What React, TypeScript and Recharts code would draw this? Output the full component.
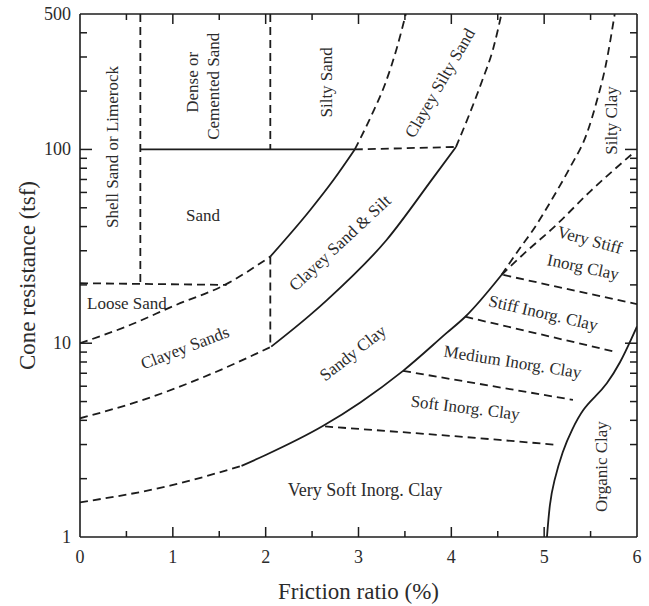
import React from 'react';
import { ComposedChart, Line, XAxis, YAxis, ReferenceDot } from 'recharts';

type Pt = { x: number; y: number };

// axis ticks
const xTicks = [0, 0.5, 1, 1.5, 2, 2.5, 3, 3.5, 4, 4.5, 5, 5.5, 6];
const xLabels = [0, 1, 2, 3, 4, 5, 6];
const yTicks = [1, 2, 3, 4, 5, 6, 7, 8, 9, 10, 20, 30, 40, 50, 60, 70, 80, 90, 100, 200, 300, 400, 500];
const yLabels = [1, 10, 100, 500];

// zone boundaries (friction ratio %, cone resistance tsf)
const shellSandEdge: Pt[] = [{ x: 0.65, y: 500 }, { x: 0.65, y: 20.5 }];
const denseSandEdge: Pt[] = [{ x: 2.05, y: 500 }, { x: 2.05, y: 100 }];
const sandTop: Pt[] = [{ x: 0.65, y: 100 }, { x: 2.96, y: 100 }];
const clayeySiltyBase: Pt[] = [{ x: 2.96, y: 100 }, { x: 4.05, y: 103 }];
const sandBase: Pt[] = [{ x: 0, y: 20.4 }, { x: 1.58, y: 20 }];
const siltySandEdge: Pt[] = [
  { x: 2.96, y: 100 }, { x: 3.14, y: 150 }, { x: 3.29, y: 220 }, { x: 3.41, y: 330 }, { x: 3.51, y: 500 },
];
const clayeySiltyEdge: Pt[] = [
  { x: 4.05, y: 103 }, { x: 4.19, y: 150 }, { x: 4.33, y: 225 }, { x: 4.45, y: 330 }, { x: 4.54, y: 500 },
];
const looseSandBase: Pt[] = [
  { x: 0, y: 10 }, { x: 0.5, y: 12.2 }, { x: 1.04, y: 15.8 }, { x: 1.56, y: 20 }, { x: 2.05, y: 28 },
];
const siltUpper: Pt[] = [
  { x: 2.05, y: 28 }, { x: 2.48, y: 48.7 }, { x: 2.73, y: 69.5 }, { x: 2.96, y: 100 },
];
const clayeySandsEdge: Pt[] = [{ x: 2.05, y: 28 }, { x: 2.05, y: 9.6 }];
const clayeySandsBase: Pt[] = [
  { x: 0, y: 4.1 }, { x: 0.68, y: 5.1 }, { x: 1.4, y: 6.9 }, { x: 2.06, y: 9.6 },
];
const siltLower: Pt[] = [
  { x: 2.06, y: 9.6 }, { x: 2.48, y: 14 }, { x: 2.66, y: 16.7 }, { x: 3.3, y: 34 }, { x: 3.81, y: 72 }, { x: 4.05, y: 103 },
];
const sandyClayDashed: Pt[] = [
  { x: 0, y: 1.51 }, { x: 0.97, y: 1.84 }, { x: 1.74, y: 2.33 },
];
const sandyClaySolid: Pt[] = [
  { x: 1.74, y: 2.33 }, { x: 2.0, y: 2.65 }, { x: 2.62, y: 3.75 }, { x: 3.02, y: 4.95 },
  { x: 3.48, y: 7.2 }, { x: 3.95, y: 11.3 }, { x: 4.15, y: 13.7 }, { x: 4.54, y: 22.5 },
];
const siltyClayEdge: Pt[] = [
  { x: 4.54, y: 22.5 }, { x: 4.74, y: 31 }, { x: 4.88, y: 38.4 }, { x: 5.1, y: 57 }, { x: 5.28, y: 81 },
  { x: 5.46, y: 121 }, { x: 5.57, y: 180 }, { x: 5.66, y: 267 }, { x: 5.76, y: 500 },
];
const veryStiffTop: Pt[] = [
  { x: 4.54, y: 22.5 }, { x: 4.8, y: 29.5 }, { x: 5.1, y: 39.5 }, { x: 5.5, y: 61 }, { x: 5.95, y: 95 },
];
const stiffTop: Pt[] = [{ x: 4.56, y: 22.5 }, { x: 6, y: 15.9 }];
const mediumTop: Pt[] = [{ x: 4.15, y: 13.7 }, { x: 5.78, y: 9.0 }];
const softTop: Pt[] = [{ x: 3.48, y: 7.2 }, { x: 5.31, y: 5.1 }];
const veryCoftTop: Pt[] = [{ x: 2.64, y: 3.72 }, { x: 4.52, y: 3.17 }, { x: 5.13, y: 2.99 }];
const organicEdge: Pt[] = [
  { x: 5.03, y: 1 }, { x: 5.06, y: 1.5 }, { x: 5.1, y: 1.9 }, { x: 5.2, y: 2.8 }, { x: 5.3, y: 3.6 }, { x: 5.42, y: 4.6 },
  { x: 5.55, y: 5.3 }, { x: 5.67, y: 6.1 }, { x: 5.82, y: 7.9 }, { x: 5.95, y: 10.8 }, { x: 6, y: 12.2 },
];

const zoneNames = [
  'Shell Sand or Limerock', 'Dense or', 'Cemented Sand', 'Silty Sand', 'Clayey Silty Sand', 'Silty Clay',
  'Sand', 'Loose Sand', 'Clayey Sands', 'Clayey Sand & Silt', 'Sandy Clay', 'Very Stiff', 'Inorg Clay',
  'Stiff Inorg. Clay', 'Medium Inorg. Clay', 'Soft Inorg. Clay', 'Very Soft Inorg. Clay', 'Organic Clay',
];
const zoneX = [0.345, 1.217, 1.434, 2.65, 3.878, 5.73, 1.325, 0.506, 1.131, 2.8, 2.94, 5.49, 5.42, 4.99, 4.66, 4.15, 3.07, 5.62];
const zoneY = [103, 222, 212, 222, 220, 141, 45.8, 16, 9.47, 32.9, 8.9, 34.1, 24.7, 14.3, 8.0, 4.64, 1.75, 2.31];
const zoneAngle = [-90, -90, -90, -90, -60, -90, 0, 0, -21, -43, -38, 15, 12, 13, 9, 7, 0, -90];

const INK = '#1c1c1c';
const TXT = '#2b2b2b';
const FONT = '"Liberation Serif", "Times New Roman", serif';

const solid = { stroke: INK, strokeWidth: 1.8 };
const dashed = { stroke: INK, strokeWidth: 1.8, strokeDasharray: '8 5' };

const LeftTick = (props: any) => {
  const { x, y, payload } = props;
  const v = payload.value;
  const major = yLabels.includes(v);
  return (
    <g>
      {v !== 500 && v !== 1 && <line x1={x} y1={y} x2={x + (major ? 12 : 7)} y2={y} stroke={INK} strokeWidth={1.5} />}
      {major && (
        <text x={x - 9} y={y} textAnchor="end" dominantBaseline="central" fontSize={18} fill={TXT} fontFamily={FONT}>
          {v}
        </text>
      )}
    </g>
  );
};

const RightTick = (props: any) => {
  const { x, y, payload } = props;
  const v = payload.value;
  if (v === 500 || v === 1) return <g />;
  const major = yLabels.includes(v);
  return <line x1={x} y1={y} x2={x - (major ? 12 : 7)} y2={y} stroke={INK} strokeWidth={1.5} />;
};

const BottomTick = (props: any) => {
  const { x, y, payload } = props;
  const v = payload.value;
  const major = xLabels.includes(v);
  return (
    <g>
      {v !== 0 && v !== 6 && <line x1={x} y1={y} x2={x} y2={y - (major ? 10 : 6)} stroke={INK} strokeWidth={1.5} />}
      {major && (
        <text x={x} y={y + 20} textAnchor="middle" dominantBaseline="central" fontSize={18} fill={TXT} fontFamily={FONT}>
          {v}
        </text>
      )}
    </g>
  );
};

const TopTick = (props: any) => {
  const { x, y, payload } = props;
  const v = payload.value;
  if (v === 0 || v === 6) return <g />;
  const major = xLabels.includes(v);
  return <line x1={x} y1={y} x2={x} y2={y + (major ? 10 : 6)} stroke={INK} strokeWidth={1.5} />;
};

const zoneLabel = (name: string, angle: number) => (p: any) => {
  const { cx, cy } = p;
  const size = name === 'Very Soft Inorg. Clay' ? 18 : 17;
  return (
    <text
      x={cx}
      y={cy}
      textAnchor="middle"
      dominantBaseline="central"
      fontSize={size}
      fill={TXT}
      fontFamily={FONT}
      transform={angle ? `rotate(${angle} ${cx} ${cy})` : undefined}
    >
      {name}
    </text>
  );
};

const seriesList: { data: Pt[]; style: any; curve: 'linear' | 'monotone' | 'basis' }[] = [
  { data: shellSandEdge, style: dashed, curve: 'linear' },
  { data: denseSandEdge, style: dashed, curve: 'linear' },
  { data: sandTop, style: solid, curve: 'linear' },
  { data: clayeySiltyBase, style: dashed, curve: 'linear' },
  { data: sandBase, style: dashed, curve: 'linear' },
  { data: siltySandEdge, style: dashed, curve: 'monotone' },
  { data: clayeySiltyEdge, style: dashed, curve: 'monotone' },
  { data: looseSandBase, style: dashed, curve: 'monotone' },
  { data: siltUpper, style: solid, curve: 'monotone' },
  { data: clayeySandsEdge, style: dashed, curve: 'linear' },
  { data: clayeySandsBase, style: dashed, curve: 'monotone' },
  { data: siltLower, style: solid, curve: 'monotone' },
  { data: sandyClayDashed, style: dashed, curve: 'monotone' },
  { data: sandyClaySolid, style: solid, curve: 'monotone' },
  { data: siltyClayEdge, style: dashed, curve: 'monotone' },
  { data: veryStiffTop, style: dashed, curve: 'monotone' },
  { data: stiffTop, style: dashed, curve: 'linear' },
  { data: mediumTop, style: dashed, curve: 'linear' },
  { data: softTop, style: dashed, curve: 'linear' },
  { data: veryCoftTop, style: dashed, curve: 'monotone' },
  { data: organicEdge, style: solid, curve: 'basis' },
];

export default function App() {
  return (
    <div style={{ width: 649, height: 606, background: '#fff' }}>
      <style>{'body{margin:0}'}</style>
      <ComposedChart width={649} height={606} margin={{ top: 0, right: 0, bottom: 0, left: 0 }}>
        <XAxis
          xAxisId="bottom"
          dataKey="x"
          type="number"
          domain={[0, 6]}
          ticks={xTicks}
          allowDataOverflow
          height={69}
          tickSize={0}
          tickMargin={0}
          tickLine={false}
          tick={BottomTick}
          axisLine={{ stroke: INK, strokeWidth: 1.6 }}
          label={{
            content: (p: any) => {
              const vb = p.viewBox;
              return (
                <text x={vb.x + vb.width / 2} y={vb.y + 54} textAnchor="middle" dominantBaseline="central" fontSize={23} fill={TXT} fontFamily={FONT}>
                  Friction ratio (%)
                </text>
              );
            },
          }}
        />
        <XAxis
          xAxisId="top"
          orientation="top"
          dataKey="x"
          type="number"
          domain={[0, 6]}
          ticks={xTicks}
          allowDataOverflow
          height={14}
          tickSize={0}
          tickMargin={0}
          tickLine={false}
          tick={TopTick}
          axisLine={{ stroke: INK, strokeWidth: 1.6 }}
        />
        <YAxis
          yAxisId="left"
          type="number"
          scale="log"
          domain={[1, 500]}
          ticks={yTicks}
          allowDataOverflow
          width={80}
          tickSize={0}
          tickMargin={0}
          tickLine={false}
          tick={LeftTick}
          interval={0}
          axisLine={{ stroke: INK, strokeWidth: 1.6 }}
          label={{
            content: (p: any) => {
              const vb = p.viewBox;
              const cy = vb.y + vb.height / 2;
              return (
                <text x={27} y={cy} textAnchor="middle" dominantBaseline="central" fontSize={23} fill={TXT} fontFamily={FONT} transform={`rotate(-90 27 ${cy})`}>
                  Cone resistance (tsf)
                </text>
              );
            },
          }}
        />
        <YAxis
          yAxisId="right"
          orientation="right"
          type="number"
          scale="log"
          domain={[1, 500]}
          ticks={yTicks}
          allowDataOverflow
          width={12}
          tickSize={0}
          tickMargin={0}
          tickLine={false}
          tick={RightTick}
          interval={0}
          axisLine={{ stroke: INK, strokeWidth: 1.6 }}
        />
        {seriesList.map((s, i) => (
          <Line
            key={i}
            xAxisId="bottom"
            yAxisId="left"
            data={s.data}
            dataKey="y"
            type={s.curve}
            dot={false}
            activeDot={false}
            isAnimationActive={false}
            {...s.style}
          />
        ))}
        {zoneNames.map((name, i) => (
          <ReferenceDot
            key={name}
            xAxisId="bottom"
            yAxisId="left"
            x={zoneX[i]}
            y={zoneY[i]}
            r={0}
            ifOverflow="visible"
            shape={zoneLabel(name, zoneAngle[i])}
          />
        ))}
      </ComposedChart>
    </div>
  );
}
